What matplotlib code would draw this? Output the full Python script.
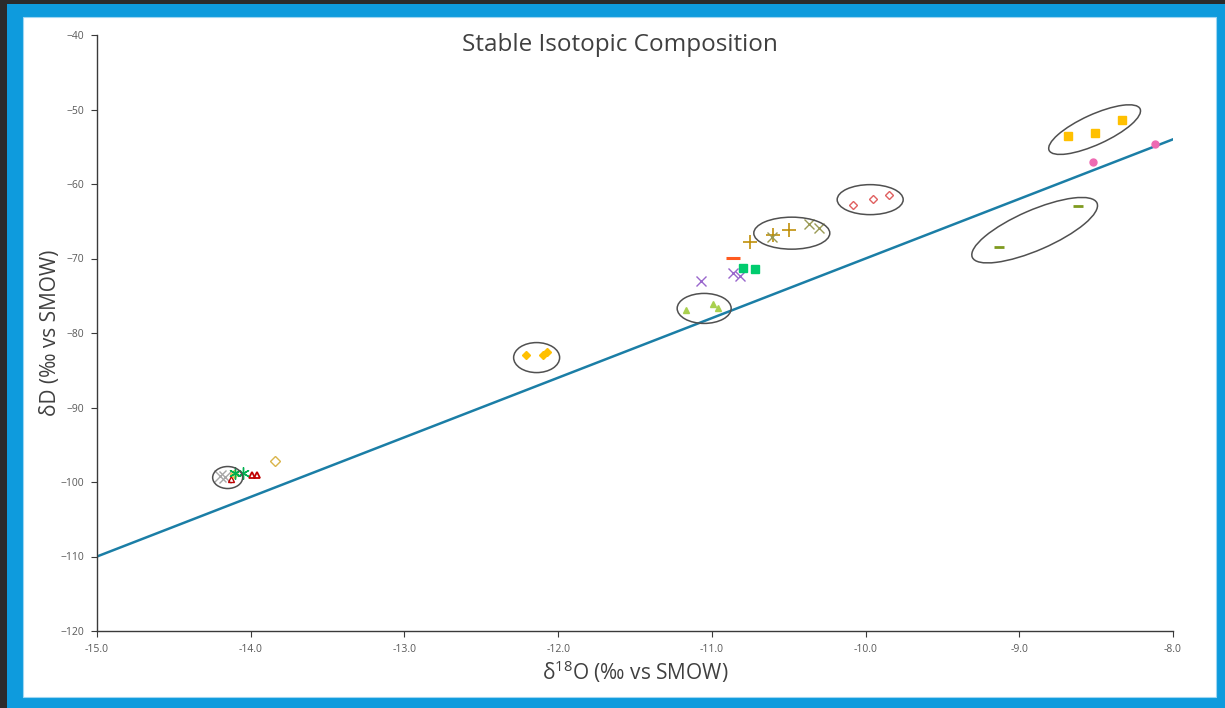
import matplotlib
matplotlib.use("Agg")
import matplotlib.pyplot as plt
from matplotlib.patches import Ellipse, Rectangle
from matplotlib.transforms import Affine2D
import numpy as np

plt.rcParams['font.family'] = ['Open Sans', 'DejaVu Sans']

# ---- sample groups: (d18O, dD) ----
gray_x_o = [-14.20, -14.17]
gray_x_d = [-99.2, -99.3]
red_tri_open_o = [-14.13]
red_tri_open_d = [-99.6]
yellow_dia_open_o = [-14.11]
yellow_dia_open_d = [-98.9]
green_star_o = [-14.10, -14.05]
green_star_d = [-98.8, -98.8]
darkred_tri_o = [-13.99, -13.96]
darkred_tri_d = [-99.1, -99.1]
gold_dia_open_o = [-13.84]
gold_dia_open_d = [-97.2]

gold_dia_o = [-12.21, -12.10, -12.07]
gold_dia_d = [-83.0, -83.0, -82.6]

lime_tri_o = [-11.17, -10.99, -10.96]
lime_tri_d = [-76.9, -76.1, -76.6]

purple_x_o = [-11.07, -10.86, -10.82]
purple_x_d = [-73.0, -71.9, -72.3]

orange_dash_o = [-10.86]
orange_dash_d = [-69.9]

green_sq_o = [-10.80, -10.72]
green_sq_d = [-71.3, -71.4]

gold_plus_o = [-10.75, -10.60, -10.50]
gold_plus_d = [-67.8, -66.8, -66.2]

olive_x_o = [-10.61, -10.37, -10.30]
olive_x_d = [-67.1, -65.4, -65.9]

red_dia_open_o = [-10.08, -9.95, -9.85]
red_dia_open_d = [-62.8, -62.0, -61.5]

olive_dash_o = [-9.13, -8.62]
olive_dash_d = [-68.5, -63.0]

yellow_sq_o = [-8.68, -8.51, -8.33]
yellow_sq_d = [-53.6, -53.2, -51.4]

pink_dot_o = [-8.52, -8.12]
pink_dot_d = [-57.0, -54.6]

# Global Meteoric Water Line: dD = 8 * d18O + 10
gmwl_x = [-15.0, -8.0]
gmwl_slope, gmwl_intercept = 8.0, 10.0

# group outlines: (center d18O, center dD, width px, height px, angle deg)
outlines = [
    (-14.15, -99.4, 30, 22, 0),
    (-12.14, -83.3, 46, 30, 0),
    (-11.05, -76.7, 54, 30, 0),
    (-10.48, -66.6, 76, 32, 0),
    (-9.97, -62.1, 66, 30, 0),
    (-8.90, -66.2, 136, 40, 23.5),
    (-8.51, -52.7, 100, 30, 24.5),
]

W, H = 1225, 708
fig = plt.figure(figsize=(W / 100, H / 100), dpi=100)
fig.patch.set_facecolor('white')

# frame: dark outline, blue border
fig.add_artist(Rectangle((0, 0), 1, 1, transform=fig.transFigure,
                         facecolor='#2b2b2b', edgecolor='none', zorder=-10))
fig.add_artist(Rectangle((7 / W, 0), 1 - 7 / W, 1 - 4 / H, transform=fig.transFigure,
                         facecolor='#0E9BDD', edgecolor='none', zorder=-9))
fig.add_artist(Rectangle((23 / W, 11 / H), (1216 - 23) / W, (697 - 17) / H,
                         transform=fig.transFigure, facecolor='white',
                         edgecolor='#9fd6f2', linewidth=0.8, zorder=-8))

ax = fig.add_axes([97 / W, 77 / H, (1173 - 97) / W, (631 - 35) / H])
ax.set_facecolor('none')
ax.set_xlim(-15, -8)
ax.set_ylim(-120, -40)
ax.set_xticks(np.arange(-15, -7.9, 1.0))
ax.set_xticklabels([f"{v:.1f}" for v in np.arange(-15, -7.9, 1.0)])
ax.set_yticks(np.arange(-120, -39, 10))
for s in ['top', 'right']:
    ax.spines[s].set_visible(False)
for s in ['left', 'bottom']:
    ax.spines[s].set_color('#3a3a3a')
    ax.spines[s].set_linewidth(1.0)
ax.tick_params(direction='out', length=4, width=0.8, color='#3a3a3a',
               labelsize=7.5, labelcolor='#595959', pad=5)

# GMWL
gx = np.array(gmwl_x)
ax.plot(gx, gmwl_slope * gx + gmwl_intercept, color='#1B7EA6', lw=1.8, zorder=2)

ms = 5
ax.plot(gray_x_o, gray_x_d, 'x', color='#A6A6A6', ms=8, mew=1.0, zorder=3)
ax.plot(red_tri_open_o, red_tri_open_d, '^', mfc='none', mec='#C00000', ms=ms, mew=1.0, zorder=3)
ax.plot(yellow_dia_open_o, yellow_dia_open_d, 'D', mfc='#FFE08A', mec='#F2C14E', ms=4, mew=1.0, zorder=3)
ax.scatter(green_star_o, green_star_d, marker=(6, 2, 0), s=70, color='#00B050', lw=1.0, zorder=4)
ax.plot(darkred_tri_o, darkred_tri_d, '^', mfc='none', mec='#C00000', ms=ms, mew=1.3, zorder=3)
ax.plot(gold_dia_open_o, gold_dia_open_d, 'D', mfc='none', mec='#D9B44A', ms=5, mew=1.0, zorder=3)

ax.plot(gold_dia_o, gold_dia_d, 'D', color='#FFC000', ms=4, zorder=3)
ax.plot(lime_tri_o, lime_tri_d, '^', color='#A9D04F', ms=5, zorder=3)
ax.plot(purple_x_o, purple_x_d, 'x', color='#9966CC', ms=7, mew=1.0, zorder=3)
ax.plot(orange_dash_o, orange_dash_d, '_', color='#FF5A1F', ms=10, mew=2.2, zorder=3)
ax.plot(green_sq_o, green_sq_d, 's', color='#00CC6E', ms=5.5, zorder=3)
ax.plot(gold_plus_o, gold_plus_d, '+', color='#C0900A', ms=10, mew=1.2, zorder=3)
ax.plot(olive_x_o, olive_x_d, 'x', color='#9A9A55', ms=7, mew=1.0, zorder=3)
ax.plot(red_dia_open_o, red_dia_open_d, 'D', mfc='none', mec='#E06060', ms=4, mew=1.0, zorder=3)
ax.plot(olive_dash_o, olive_dash_d, '_', color='#7F9A1F', ms=7, mew=2.0, zorder=3)
ax.plot(yellow_sq_o, yellow_sq_d, 's', color='#FFC000', ms=6, zorder=3)
ax.plot(pink_dot_o, pink_dot_d, 'o', color='#EE6AB2', ms=5, zorder=3)

# outlines around grouped samples, sized in screen pixels
for cx, cy, w, h, ang in outlines:
    px, py = ax.transData.transform((cx, cy))
    e = Ellipse((0, 0), w, h, facecolor='none', edgecolor='#505050', lw=1.1,
                transform=Affine2D().rotate_deg(ang).translate(px, py), zorder=5)
    fig.add_artist(e)

fig.text(620 / W, 1 - 45 / H, 'Stable Isotopic Composition', fontsize=17.5,
         color='#404040', ha='center', va='center')
ax.set_xlabel(r'$\mathregular{\delta^{18}}$O (‰ vs SMOW)', fontsize=15, color='#404040', labelpad=3)
ax.set_ylabel('δD (‰ vs SMOW)', fontsize=15, color='#404040', labelpad=0)

fig.savefig('out.png', dpi=100)
